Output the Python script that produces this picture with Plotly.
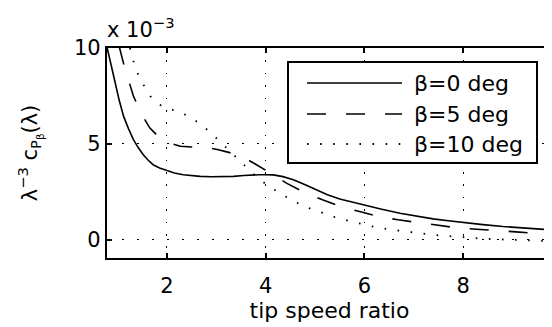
import plotly.graph_objects as go

# tip speed ratio (lambda) and lambda^-3 * cP (units of 1e-3)
lam_b0 = [0.78, 0.87, 0.95, 1.03, 1.12, 1.22, 1.32, 1.42, 1.52, 1.62, 1.72, 1.85, 2.0, 2.15, 2.33, 2.5, 2.67, 2.9, 3.14, 3.35, 3.55, 3.72, 3.88, 4.0, 4.15, 4.35, 4.56, 4.8, 5.03, 5.25, 5.5, 5.75, 6.0, 6.35, 6.72, 7.05, 7.39, 7.7, 8.0, 8.4, 8.81, 9.3, 9.8]
cp_b0 = [10.1, 9.0, 8.2, 7.3, 6.45, 5.8, 5.23, 4.8, 4.44, 4.15, 3.92, 3.75, 3.6, 3.49, 3.4, 3.35, 3.31, 3.29, 3.28, 3.31, 3.36, 3.39, 3.4, 3.4, 3.39, 3.3, 3.14, 2.88, 2.61, 2.36, 2.13, 1.97, 1.83, 1.6, 1.39, 1.24, 1.1, 1.0, 0.9, 0.8, 0.7, 0.6, 0.52]

lam_b5 = [1.03, 1.12, 1.26, 1.32, 1.49, 1.65, 1.8, 1.97, 2.12, 2.27, 2.5, 2.7, 2.88, 3.04, 3.27, 3.48, 3.64, 3.78, 3.97, 4.15, 4.42, 4.79, 5.15, 5.53, 5.9, 6.29, 6.68, 7.09, 7.46, 7.88, 8.27, 8.68, 9.07, 9.47, 9.8]
cp_b5 = [10.1, 9.2, 8.0, 7.5, 6.53, 5.84, 5.45, 5.19, 5.0, 4.88, 4.84, 4.83, 4.78, 4.7, 4.55, 4.35, 4.17, 3.97, 3.7, 3.4, 2.96, 2.47, 2.09, 1.74, 1.48, 1.22, 1.05, 0.9, 0.77, 0.63, 0.56, 0.47, 0.42, 0.35, 0.31]

lam_b10 = [1.25, 1.32, 1.4, 1.52, 1.66, 1.87, 2.13, 2.42, 2.64, 2.86, 3.06, 3.26, 3.47, 3.66, 3.87, 4.08, 4.33, 4.59, 4.86, 5.13, 5.41, 5.7, 5.99, 6.27, 6.58, 6.87, 7.17, 7.46, 7.76, 8.07, 8.37, 8.66, 9.0, 9.3, 9.6, 9.8]
cp_b10 = [10.0, 9.32, 8.71, 8.1, 7.49, 7.02, 6.76, 6.48, 6.1, 5.65, 5.16, 4.65, 4.15, 3.66, 3.17, 2.77, 2.37, 1.99, 1.67, 1.41, 1.18, 0.98, 0.8, 0.64, 0.52, 0.42, 0.33, 0.25, 0.19, 0.12, 0.07, 0.04, 0.0, -0.02, -0.05, -0.04]

series_names = ["β=0 deg", "β=5 deg", "β=10 deg"]
x_ticks = [2, 4, 6, 8]
y_ticks = [0, 5, 10]

FONT = "DejaVu Sans"
dashes = ["solid", "19px,20px", "1.6px,11.5px"]
widths = [1.6, 1.6, 1.8]

fig = go.Figure()
for xs, ys, name, d, w in zip([lam_b0, lam_b5, lam_b10], [cp_b0, cp_b5, cp_b10], series_names, dashes, widths):
    fig.add_trace(go.Scatter(x=xs, y=ys, mode="lines", name=name,
                             line=dict(color="black", width=w, dash=d),
                             showlegend=False))

OFF = 8  # default page body margin
W, H = 552 - OFF, 327 - OFF
ml, mr, mt, mb = 107 - OFF, 0, 48 - OFF, 69

fig.update_layout(
    width=W, height=H,
    margin=dict(l=ml, r=mr, t=mt, b=mb, autoexpand=False),
    paper_bgcolor="white", plot_bgcolor="white",
    font=dict(family=FONT, size=21, color="black"),
    xaxis=dict(range=[0.785, 9.8], tickvals=x_ticks, ticks="inside", ticklen=5, tickwidth=1.5,
               tickcolor="black", showline=True, linecolor="black", linewidth=2.2, mirror="ticks",
               showgrid=True, gridcolor="black", gridwidth=1, griddash="1.6px,10.8px", zeroline=False,
               automargin=False, ticklabelstandoff=8,
               title=dict(text="tip speed ratio", font=dict(size=22), standoff=4),
               tickfont=dict(size=21)),
    yaxis=dict(range=[-0.94, 10], tickvals=y_ticks, ticks="inside", ticklen=5, tickwidth=1.5,
               tickcolor="black", showline=True, linecolor="black", linewidth=2.2, mirror=False,
               showgrid=True, gridcolor="black", gridwidth=1, griddash="1.6px,13.4px", zeroline=False,
               automargin=False,
               title=dict(text="λ<sup>−3</sup> c<sub>P<sub>β</sub></sub>(λ)", font=dict(size=21), standoff=31),
               tickfont=dict(size=21)),
)

# multiplier label
fig.add_annotation(xref="paper", yref="paper", x=0, y=1, xanchor="left", yanchor="bottom",
                   text="x 10<sup>−3</sup>", showarrow=False, font=dict(size=21), xshift=-2, yshift=4)

# hand-drawn legend box (MATLAB style); positions given in screen pixels
pw, ph = W - ml - mr, H - mt - mb
def px(xp):
    return (xp - OFF - ml) / pw
def py(yp):
    return (OFF + H - mb - yp) / ph

fig.add_shape(type="rect", xref="paper", yref="paper", x0=px(288), x1=px(537), y0=py(163), y1=py(62),
              line=dict(color="black", width=2), fillcolor="white", layer="above")
rows = [83, 114, 144]
for r, name, d, w in zip(rows, series_names, dashes, widths):
    fig.add_shape(type="line", xref="paper", yref="paper", x0=px(307), x1=px(402), y0=py(r), y1=py(r),
                  line=dict(color="black", width=w, dash=d), layer="above")
    fig.add_annotation(xref="paper", yref="paper", x=px(412), y=py(r), xanchor="left", yanchor="middle",
                       text=name, showarrow=False, font=dict(size=22))

fig.write_html("out.html")
